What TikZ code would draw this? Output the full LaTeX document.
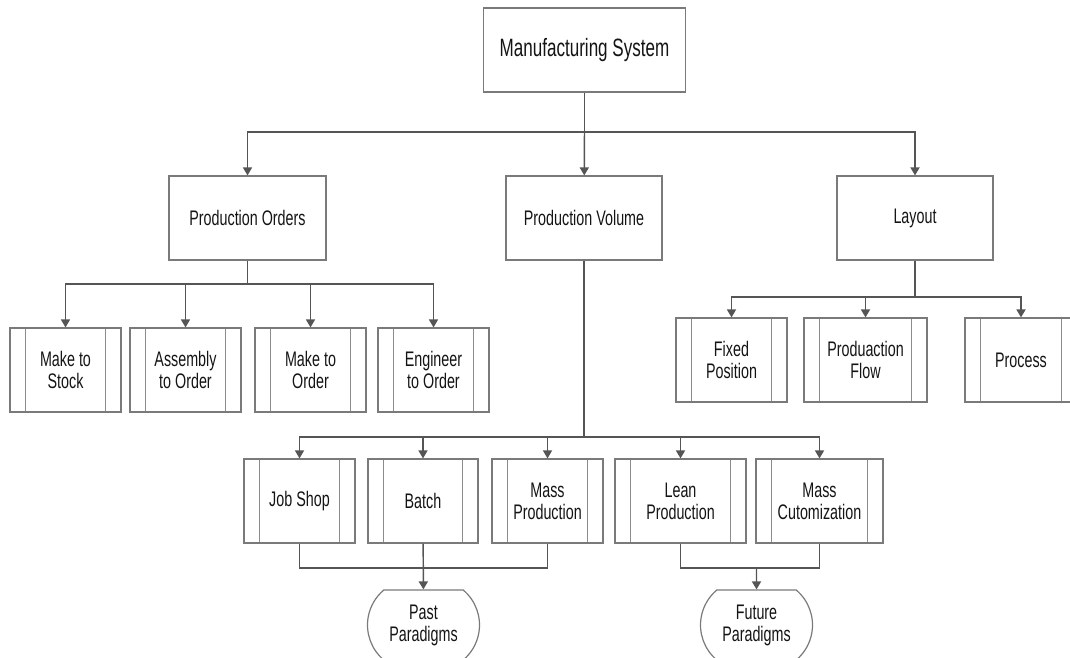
\documentclass[tikz,border=0pt]{standalone}
\usepackage{fontspec}
\setmainfont{Liberation Sans}[FakeStretch=0.68]
\usetikzlibrary{arrows.meta,shapes.misc}
\definecolor{linec}{HTML}{555555}
\definecolor{boxc}{HTML}{7A7A7A}
\definecolor{innerc}{HTML}{8C8C8C}
\definecolor{txtc}{HTML}{141414}
\tikzset{
  base/.style={draw=boxc, line width=0.9pt, inner sep=0pt, align=center,
    text=txtc, font=\fontsize{15.8}{16.6}\selectfont, minimum height={84*0.75pt}},
  mainbox/.style={base, rectangle},
  procbox/.style={base, rectangle,
    path picture={
      \draw[innerc, line width=0.9pt]
        ([xshift={15.5*0.75pt}]path picture bounding box.north west) --
        ([xshift={15.5*0.75pt}]path picture bounding box.south west)
        ([xshift={-15.5*0.75pt}]path picture bounding box.north east) --
        ([xshift={-15.5*0.75pt}]path picture bounding box.south east);
    }},
  termbox/.style={base, rounded rectangle, rounded rectangle arc length=100,
    minimum height={70*0.75pt}},
  conn/.style={draw=linec, line width=1.1pt},
  arr/.style={conn, -{Triangle[length=6pt, width=6.8pt]}},
  W/.style={minimum width={#1*0.75pt}}
}
\begin{document}
\begin{tikzpicture}[x=0.75pt, y=-0.75pt]
\useasboundingbox (0,0) rectangle (1070,657);
% top
\node[mainbox, W=202, font=\fontsize{18.8}{21}\selectfont] (ms) at (584.5,50) {Manufacturing System};
% level 2
\node[mainbox, W=157] (po) at (247.5,218) {Production Orders};
\node[mainbox, W=156] (pv) at (584,218) {Production Volume};
\node[mainbox, W=156] (ly) at (915,218) {Layout};
% production orders children
\node[procbox, W=111] (mts) at (65.5,370) {Make to\\Stock};
\node[procbox, W=111] (ato) at (185.5,370) {Assembly\\to Order};
\node[procbox, W=111] (mto) at (310.5,370) {Make to\\Order};
\node[procbox, W=111] (eto) at (433.5,370) {Engineer\\to Order};
% layout children
\node[procbox, W=111] (fp) at (731.5,360) {Fixed\\Position};
\node[procbox, W=123] (pf) at (865.5,360) {Produaction\\Flow};
\node[procbox, W=112] (pr) at (1021,360) {Process};
% volume children
\node[procbox, W=111] (js) at (299.5,501) {Job Shop};
\node[procbox, W=110] (ba) at (423,501) {Batch};
\node[procbox, W=111] (mp) at (547.5,501) {Mass\\Production};
\node[procbox, W=131] (lp) at (680.5,501) {Lean\\Production};
\node[procbox, W=127] (mc) at (819.5,501) {Mass\\Cutomization};
% paradigms
\node[termbox, W=112] (pp) at (423.5,625) {Past\\Paradigms};
\node[termbox, W=112] (fu) at (756.5,625) {Future\\Paradigms};
% junction coordinates
\coordinate (b1) at (584.5,132);
\coordinate (b2) at (247.5,284);
\coordinate (b3) at (915,297);
\coordinate (b4) at (584,437);
\coordinate (j1) at (423,568);
\coordinate (j2) at (756.5,568);
% connectors
\draw[conn] (ms) -- (b1);
\draw[arr] (b1) -| (po);
\draw[arr] (b1) -- (pv);
\draw[arr] (b1) -| (ly);
\draw[conn] (po) -- (b2);
\draw[arr] (b2) -| (mts);
\draw[arr] (b2) -| (ato);
\draw[arr] (b2) -| (mto);
\draw[arr] (b2) -| (eto);
\draw[conn] (ly) -- (b3);
\draw[arr] (b3) -| (fp);
\draw[arr] (b3) -| (pf);
\draw[arr] (b3) -| (pr);
\draw[conn] (pv) -- (b4);
\draw[arr] (b4) -| (js);
\draw[arr] (b4) -| (ba);
\draw[arr] (b4) -| (mp);
\draw[arr] (b4) -| (lp);
\draw[arr] (b4) -| (mc);
\draw[conn] (js) |- (j1) -| (mp);
\draw[arr] (ba) -- (pp);
\draw[conn] (lp) |- (j2) -| (mc);
\draw[arr] (j2) -- (fu);
\end{tikzpicture}
\end{document}
